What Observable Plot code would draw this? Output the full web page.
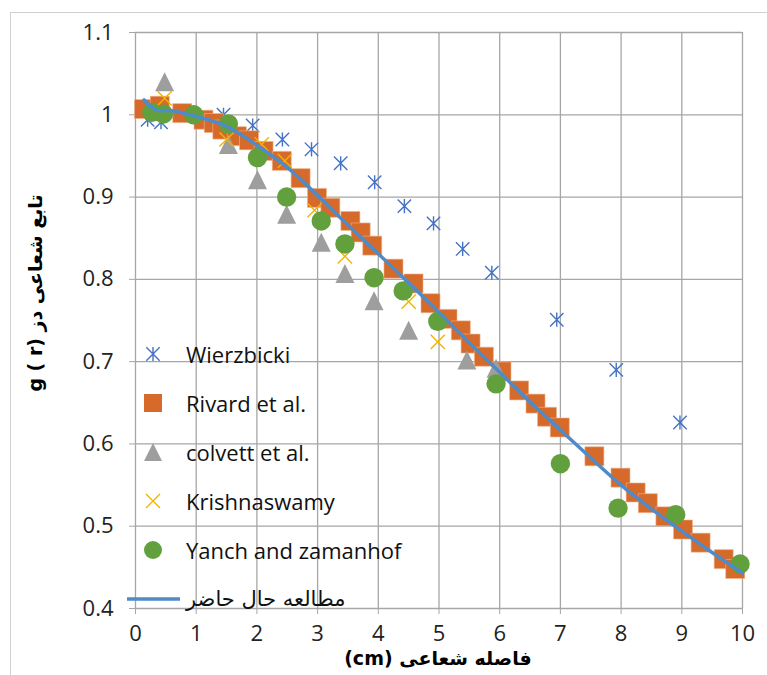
<!DOCTYPE html>
<html>
<head>
<meta charset="utf-8">
<script src="https://cdn.jsdelivr.net/npm/d3@7"></script>
<script src="https://cdn.jsdelivr.net/npm/@observablehq/plot@0.6"></script>
<style>
  html, body { margin: 0; padding: 0; background: #fff; }
  body { width: 767px; height: 675px; position: relative; overflow: hidden; font-family: "Open Sans", "DejaVu Sans", sans-serif; }
  #frame { position: absolute; left: 10px; top: 12px; width: 800px; height: 800px; border: 1px solid #d0d0d0; box-sizing: border-box; }
  #chart { position: absolute; left: 0; top: 0; }
  #ytitle { position: absolute; left: 35px; top: 293px; transform: translate(-50%, -50%) rotate(-90deg); white-space: nowrap; font-family: "DejaVu Sans", sans-serif; font-weight: bold; font-size: 19px; color: #000; }
  #xtitle { position: absolute; left: 438px; top: 658px; transform: translate(-50%, -50%); white-space: nowrap; font-family: "DejaVu Sans", sans-serif; font-weight: bold; font-size: 19px; color: #000; }
  #legend { position: absolute; left: 127px; top: 330px; }
  .lrow { position: absolute; left: 0; height: 48px; width: 300px; }
  .lrow svg { position: absolute; left: 0; top: 0; }
  .lrow span { position: absolute; left: 59px; top: 50%; transform: translateY(-50%); font-size: 22px; color: #111; white-space: nowrap; }
  .lrow span.fa { font-family: "DejaVu Sans", sans-serif; font-size: 21px; }
</style>
</head>
<body>
<div id="frame"></div>
<div id="chart"></div>
<div id="legend"></div>
<div id="ytitle">g ( r) تابع شعاعی دز</div>
<div id="xtitle">(cm) فاصله شعاعی</div>
<script>
// ---- data ----
const seriesNames = ["Wierzbicki", "Rivard et al.", "colvett et al.", "Krishnaswamy", "Yanch and zamanhof", "مطالعه حال حاضر"];

const wierzX = [0.2, 0.42, 1.45, 1.93, 2.42, 2.9, 3.38, 3.94, 4.43, 4.91, 5.39, 5.87, 6.94, 7.92, 8.97];
const wierzY = [0.994, 0.991, 1.000, 0.987, 0.970, 0.958, 0.941, 0.918, 0.889, 0.868, 0.837, 0.808, 0.751, 0.690, 0.626];

const rivardX = [0.14, 0.4, 0.77, 1.12, 1.29, 1.43, 1.67, 1.87, 2.11, 2.41, 2.72, 2.99, 3.21, 3.54, 3.71, 3.9, 4.25, 4.58, 4.86, 5.14, 5.36, 5.52, 5.74, 6.03, 6.32, 6.59, 6.78, 6.99, 7.56, 7.99, 8.24, 8.44, 8.73, 9.02, 9.31, 9.69, 9.88];
const rivardY = [1.007, 1.011, 1.002, 0.994, 0.990, 0.982, 0.974, 0.969, 0.956, 0.944, 0.923, 0.899, 0.887, 0.871, 0.857, 0.841, 0.813, 0.795, 0.771, 0.752, 0.738, 0.722, 0.706, 0.688, 0.665, 0.649, 0.633, 0.620, 0.585, 0.559, 0.541, 0.528, 0.512, 0.496, 0.480, 0.460, 0.448];

const colvettX = [0.48, 1.53, 2.01, 2.49, 3.06, 3.45, 3.93, 4.5, 5.46, 5.94];
const colvettY = [1.040, 0.964, 0.921, 0.879, 0.845, 0.807, 0.774, 0.738, 0.702, 0.692];

const krishX = [0.48, 1.5, 2.08, 2.46, 2.95, 3.45, 4.5, 4.98];
const krishY = [1.020, 0.970, 0.964, 0.944, 0.884, 0.828, 0.773, 0.724];

const yanchX = [0.27, 0.46, 0.96, 1.53, 2.01, 2.49, 3.06, 3.45, 3.93, 4.41, 4.98, 5.94, 7.0, 7.95, 8.9, 9.96];
const yanchY = [1.003, 1.001, 1.000, 0.989, 0.948, 0.900, 0.871, 0.843, 0.802, 0.786, 0.749, 0.673, 0.576, 0.522, 0.514, 0.454];

const studyX = [0.14, 0.33, 0.6, 1, 1.5, 2, 2.5, 3, 3.5, 4, 4.5, 5, 5.5, 6, 6.5, 7, 7.5, 8, 8.5, 9, 9.5, 10];
const studyY = [1.018, 1.006, 1.005, 0.998, 0.986, 0.963, 0.936, 0.902, 0.866, 0.831, 0.796, 0.760, 0.723, 0.687, 0.651, 0.617, 0.583, 0.550, 0.521, 0.494, 0.468, 0.443];

const xTicks = [0, 1, 2, 3, 4, 5, 6, 7, 8, 9, 10];
const xTickLabels = ["0", "1", "2", "3", "4", "5", "6", "7", "8", "9", "10"];
const yTicks = [0.4, 0.5, 0.6, 0.7, 0.8, 0.9, 1.0, 1.1];
const yTickLabels = ["0.4", "0.5", "0.6", "0.7", "0.8", "0.9", "1", "1.1"];

// ---- styles ----
const colors = { wierz: "#4472C4", rivard: "#D66A2A", colvett: "#9E9E9E", krish: "#F0B400", yanch: "#62A03E", study: "#4E8BC8" };

const zip = (xs, ys) => xs.map((x, i) => ({x, y: ys[i]}));

// custom marker shapes (r = half-size in px)
const starSym = { draw(ctx, size) { const r = Math.sqrt(size / Math.PI); const d = r * 0.7071;
  ctx.moveTo(-d, -d); ctx.lineTo(d, d); ctx.moveTo(-d, d); ctx.lineTo(d, -d); ctx.moveTo(0, -d * 1.05); ctx.lineTo(0, d * 1.05); } };
const timesSym = { draw(ctx, size) { const r = Math.sqrt(size / Math.PI); const d = r * 0.7071;
  ctx.moveTo(-d, -d); ctx.lineTo(d, d); ctx.moveTo(-d, d); ctx.lineTo(d, -d); } };
const squareSym = { draw(ctx, size) { const r = Math.sqrt(size / Math.PI); ctx.rect(-r, -r, 2 * r, 2 * r); } };
const triSym = { draw(ctx, size) { const r = Math.sqrt(size / Math.PI);
  ctx.moveTo(0, -r); ctx.lineTo(r, r); ctx.lineTo(-r, r); ctx.closePath(); } };

const fmtX = d => xTickLabels[xTicks.indexOf(d)];
const fmtY = d => yTickLabels[yTicks.findIndex(t => Math.abs(t - d) < 1e-9)];

const chart = Plot.plot({
  width: 767,
  height: 675,
  marginLeft: 135,
  marginRight: 25,
  marginTop: 32,
  marginBottom: 67,
  style: { fontFamily: "'Open Sans', 'DejaVu Sans', sans-serif", fontSize: "22px", color: "#222", background: "transparent" },
  x: { domain: [0, 10] },
  y: { domain: [0.4, 1.1] },
  marks: [
    Plot.gridX(xTicks, { stroke: "#a6a6a6", strokeOpacity: 1, strokeWidth: 1.3 }),
    Plot.gridY(yTicks, { stroke: "#a6a6a6", strokeOpacity: 1, strokeWidth: 1.3 }),
    Plot.axisX(xTicks, { tickFormat: fmtX, tickSize: 6, tickPadding: 11, stroke: "#a6a6a6", label: null, fill: "#222" }),
    Plot.axisY(yTicks, { tickFormat: fmtY, tickSize: 6, tickPadding: 16, stroke: "#a6a6a6", label: null, fill: "#222" }),
    Plot.dot(zip(wierzX, wierzY), { x: "x", y: "y", symbol: starSym, r: 9.5, stroke: colors.wierz, strokeWidth: 1.4, fill: "none" }),
    Plot.dot(zip(rivardX, rivardY), { x: "x", y: "y", symbol: squareSym, r: 9.5, fill: colors.rivard, stroke: "#f0b38c", strokeWidth: 0.6 }),
    Plot.dot(zip(colvettX, colvettY), { x: "x", y: "y", symbol: triSym, r: 9.5, fill: colors.colvett, stroke: "none" }),
    Plot.dot(zip(krishX, krishY), { x: "x", y: "y", symbol: timesSym, r: 10, stroke: colors.krish, strokeWidth: 1.4, fill: "none" }),
    Plot.dot(zip(yanchX, yanchY), { x: "x", y: "y", r: 9.7, fill: colors.yanch, stroke: "none" }),
    Plot.line(zip(studyX, studyY), { x: "x", y: "y", stroke: colors.study, strokeWidth: 3.5, curve: "catmull-rom" })
  ]
});
document.getElementById("chart").appendChild(chart);

// ---- legend (HTML overlay) ----
const legendSwatches = [
  `<path d="M19.3,17.3 L32.7,30.7 M19.3,30.7 L32.7,17.3 M26,16.9 L26,31.1" stroke="${colors.wierz}" stroke-width="1.4" fill="none"/>`,
  `<rect x="17" y="15" width="18" height="18" fill="${colors.rivard}"/>`,
  `<path d="M26,15 L35,33 L17,33 Z" fill="${colors.colvett}"/>`,
  `<path d="M19,17 L33,31 M19,31 L33,17" stroke="${colors.krish}" stroke-width="1.4" fill="none"/>`,
  `<circle cx="26" cy="24" r="9" fill="${colors.yanch}"/>`,
  `<line x1="0" y1="24" x2="53" y2="24" stroke="${colors.study}" stroke-width="3.5"/>`
];
const legend = document.getElementById("legend");
seriesNames.forEach((name, i) => {
  const row = document.createElement("div");
  row.className = "lrow";
  row.style.top = (i * 49) + "px";
  const isFa = i === seriesNames.length - 1;
  row.innerHTML = `<svg width="60" height="48">${legendSwatches[i]}</svg><span class="${isFa ? "fa" : ""}" ${isFa ? 'dir="rtl"' : ""}>${name}</span>`;
  legend.appendChild(row);
});
</script>
</body>
</html>
